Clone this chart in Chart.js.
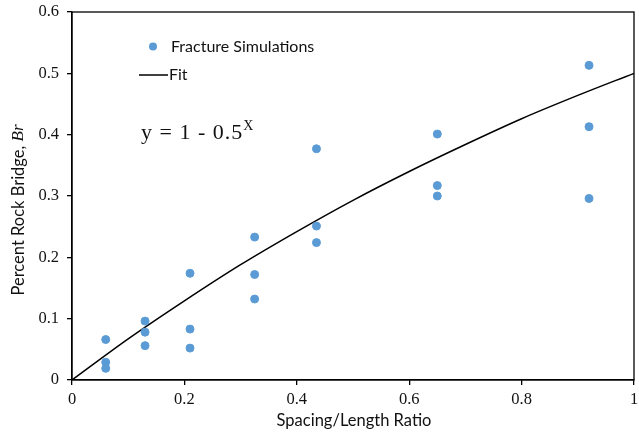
<!DOCTYPE html>
<html>
<head>
<meta charset="utf-8">
<script src="https://cdn.jsdelivr.net/npm/chart.js@4"></script>
<style>
  html, body { margin: 0; padding: 0; background: #fff; }
  #wrap { width: 639px; height: 438px; }
</style>
</head>
<body>
<div id="wrap"><canvas id="rockChart" width="639" height="438"></canvas></div>
<script>
// Simulation results: spacing/length ratio vs. percent rock bridge
const simX = [0.06, 0.06, 0.06, 0.13, 0.13, 0.13, 0.21, 0.21, 0.21,
              0.325, 0.325, 0.325, 0.435, 0.435, 0.435, 0.65, 0.65, 0.65,
              0.92, 0.92, 0.92];
const simY = [0.066, 0.029, 0.019, 0.096, 0.078, 0.056, 0.174, 0.083, 0.052,
              0.233, 0.172, 0.132, 0.377, 0.251, 0.224, 0.401, 0.317, 0.300,
              0.513, 0.413, 0.296];

// Fit curve y = 1 - 0.5^x, tabulated
const fitX = [0, 0.1, 0.2, 0.3, 0.4, 0.5, 0.6, 0.7, 0.8, 0.9, 1.0];
const fitY = [0, 0.067, 0.129, 0.188, 0.242, 0.293, 0.340, 0.384, 0.426, 0.464, 0.5];

const xTickLabels = ['0', '0.2', '0.4', '0.6', '0.8', '1'];
const yTickLabels = ['0', '0.1', '0.2', '0.3', '0.4', '0.5', '0.6'];

const seriesNames = ['Fracture Simulations', 'Fit'];
const blue = '#5B9BD5';

const sansFont = 'Lato, "Open Sans", sans-serif';
const serifFont = '"Liberation Serif", "DejaVu Serif", serif';

// legend, equation, box and axis titles drawn by hand
const decorPlugin = {
  id: 'decor',
  afterDraw(chart) {
    const { ctx, chartArea: a } = chart;
    ctx.save();

    // outer box
    ctx.strokeStyle = '#000';
    ctx.lineWidth = 1.3;
    ctx.strokeRect(a.left, a.top, a.right - a.left, a.bottom - a.top);

    // legend
    ctx.fillStyle = blue;
    ctx.beginPath();
    ctx.arc(153, 46.5, 4, 0, Math.PI * 2);
    ctx.fill();
    ctx.fillStyle = '#111';
    ctx.font = '16px ' + sansFont;
    ctx.textBaseline = 'middle';
    ctx.textAlign = 'left';
    ctx.fillText(seriesNames[0], 171, 46.5);
    ctx.strokeStyle = '#000';
    ctx.lineWidth = 1.5;
    ctx.beginPath();
    ctx.moveTo(139, 75);
    ctx.lineTo(168, 75);
    ctx.stroke();
    ctx.fillText(seriesNames[1], 169, 75);

    // equation
    ctx.font = '22px ' + serifFont;
    ctx.textBaseline = 'alphabetic';
    ctx.letterSpacing = '1px';
    const eq = 'y = 1 - 0.5';
    ctx.fillText(eq, 141, 139);
    const w = ctx.measureText(eq).width;
    ctx.letterSpacing = '0px';
    ctx.font = '14px ' + serifFont;
    ctx.fillText('X', 141 + w, 130);

    // x axis title
    ctx.font = '16.5px ' + sansFont;
    ctx.textAlign = 'center';
    ctx.textBaseline = 'middle';
    ctx.fillText('Spacing/Length Ratio', 354, 421);

    // y axis title with italic symbol
    ctx.translate(19, 210);
    ctx.rotate(-Math.PI / 2);
    const t1 = 'Percent Rock Bridge, ';
    ctx.font = '16.5px ' + sansFont;
    const w1 = ctx.measureText(t1).width;
    ctx.font = 'italic 17px ' + serifFont;
    const w2 = ctx.measureText('Br').width;
    const x0 = -(w1 + w2) / 2;
    ctx.textAlign = 'left';
    ctx.font = '16.5px ' + sansFont;
    ctx.fillText(t1, x0, 0);
    ctx.font = 'italic 17px ' + serifFont;
    ctx.fillText('Br', x0 + w1, 0);

    ctx.restore();
  }
};

const axisCommon = {
  type: 'linear',
  grid: { display: true, drawOnChartArea: false, drawTicks: true, tickLength: 5, color: '#000', lineWidth: 1.3 },
  border: { display: true, color: '#000', width: 1.3 },
};

new Chart(document.getElementById('rockChart'), {
  type: 'scatter',
  data: {
    datasets: [
      {
        label: seriesNames[0],
        data: simX.map((x, i) => ({ x: x, y: simY[i] })),
        backgroundColor: blue,
        borderColor: blue,
        pointRadius: 4,
        pointHoverRadius: 4,
        order: 1,
      },
      {
        label: seriesNames[1],
        type: 'line',
        data: fitX.map((x, i) => ({ x: x, y: fitY[i] })),
        borderColor: '#000',
        borderWidth: 1.5,
        pointRadius: 0,
        cubicInterpolationMode: 'monotone',
        fill: false,
        order: 2,
      }
    ]
  },
  options: {
    responsive: false,
    animation: false,
    layout: { padding: { top: 12, right: 2, left: 0, bottom: 0 } },
    plugins: {
      legend: { display: false },
      tooltip: { enabled: false },
    },
    scales: {
      x: {
        ...axisCommon,
        min: 0,
        max: 1,
        afterFit: s => { s.height = 58; s.paddingLeft = 0; s.paddingRight = 0; },
        ticks: {
          stepSize: 0.2,
          color: '#111',
          padding: 5,
          font: { family: serifFont, size: 16.5 },
          callback: (v) => xTickLabels[Math.round(v / 0.2)]
        }
      },
      y: {
        ...axisCommon,
        min: 0,
        max: 0.6,
        afterFit: s => { s.width = 72; s.paddingTop = 0; s.paddingBottom = 0; },
        ticks: {
          stepSize: 0.1,
          color: '#111',
          padding: 8,
          font: { family: serifFont, size: 16.5 },
          callback: (v) => yTickLabels[Math.round(v / 0.1)]
        }
      }
    }
  },
  plugins: [decorPlugin]
});
</script>
</body>
</html>
